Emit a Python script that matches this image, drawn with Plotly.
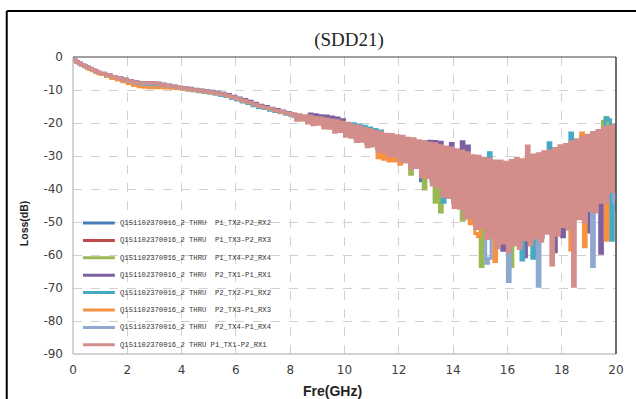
import plotly.graph_objects as go

# ---------------- data ----------------
series_names = [
    "Q151102370016_2 THRU\u00a0 P1_TX2-P2_RX2",
    "Q151102370016_2 THRU\u00a0 P1_TX3-P2_RX3",
    "Q151102370016_2 THRU\u00a0 P1_TX4-P2_RX4",
    "Q151102370016_2 THRU\u00a0 P2_TX1-P1_RX1",
    "Q151102370016_2 THRU\u00a0 P2_TX2-P1_RX2",
    "Q151102370016_2 THRU\u00a0 P2_TX3-P1_RX3",
    "Q151102370016_2 THRU\u00a0 P2_TX4-P1_RX4",
    "Q151102370016_2 THRU P1_TX1-P2_RX1",
]
series_colors = ["#4A7EBB", "#BE4B48", "#98B954", "#7D60A0",
                 "#46AAC5", "#F69240", "#8EA8D0", "#D38E8C"]

# frequency grid (GHz)
freq_ghz = [0.0, 0.1, 0.2, 0.3, 0.4, 0.5, 0.6, 0.7, 0.8, 0.9, 1.0,
            1.2, 1.4, 1.6, 1.8, 2.0, 2.2, 2.4, 2.6, 2.8, 3.0,
            3.2, 3.4, 3.6, 3.8, 4.0, 4.2, 4.4, 4.6, 4.8, 5.0,
            5.2, 5.4, 5.6, 5.8, 6.0, 6.2, 6.4, 6.6, 6.8, 7.0,
            7.2, 7.4, 7.6, 7.8, 8.0,
            8.1, 8.2, 8.3, 8.4, 8.5, 8.6, 8.7, 8.8, 8.9, 9.0,
            9.1, 9.2, 9.3, 9.4, 9.5, 9.6, 9.7, 9.8, 9.9, 10.0,
            10.1, 10.2, 10.3, 10.4, 10.5, 10.6, 10.7, 10.8, 10.9, 11.0,
            11.1, 11.2, 11.3, 11.4, 11.5, 11.6, 11.7, 11.8, 11.9, 12.0,
            12.1, 12.2, 12.3, 12.4, 12.5, 12.6, 12.7, 12.8, 12.9, 13.0,
            13.1, 13.2, 13.3, 13.4, 13.5, 13.6, 13.7, 13.8, 13.9, 14.0,
            14.1, 14.2, 14.3, 14.4, 14.5, 14.6, 14.7, 14.8, 14.9, 15.0,
            15.1, 15.2, 15.3, 15.4, 15.5, 15.6, 15.7, 15.8, 15.9, 16.0,
            16.1, 16.2, 16.3, 16.4, 16.5, 16.6, 16.7, 16.8, 16.9, 17.0,
            17.1, 17.2, 17.3, 17.4, 17.5, 17.6, 17.7, 17.8, 17.9, 18.0,
            18.1, 18.2, 18.3, 18.4, 18.5, 18.6, 18.7, 18.8, 18.9, 19.0,
            19.1, 19.2, 19.3, 19.4, 19.5, 19.6, 19.7, 19.8, 19.9, 20.0]

loss_p1_tx2 = [-1.0, -1.5, -2.0, -2.5, -2.9, -3.3, -3.7, -4.1, -4.5, -4.8, -5.1,
               -5.6, -6.1, -6.6, -7.0, -7.5, -7.9, -8.2, -8.3, -8.3, -8.4,
               -8.6, -8.9, -9.1, -9.4, -9.6, -9.9, -10.1, -10.4, -10.6, -10.8,
               -11.1, -11.5, -11.9, -12.4, -12.9, -13.4, -13.9, -14.5, -15.0, -15.4,
               -15.9, -16.3, -16.8, -17.2, -17.6,
               -17.9, -18.7, -18.1, -18.9, -18.4, -19.4, -18.6, -19.7, -19.0, -19.9,
               -19.3, -20.7, -19.6, -21.1, -19.9, -21.9, -20.2, -22.1, -20.6, -23.1,
               -21.1, -23.6, -21.6, -24.7, -22.0, -24.9, -22.5, -26.1, -22.9, -26.3,
               -23.4, -27.7, -23.9, -28.1, -24.3, -29.1, -24.5, -29.3, -24.9, -30.5,
               -25.1, -31.1, -25.6, -32.7, -25.9, -32.9, -26.4, -37.5, -26.7, -35.6,
               -27.1, -37.6, -27.4, -38.6, -28.0, -41.1, -28.3, -41.6, -28.7, -44.1,
               -29.1, -44.6, -29.6, -47.4, -30.1, -47.6, -30.9, -50.6, -31.1, -50.6,
               -31.7, -53.6, -32.0, -53.6, -32.6, -56.1, -32.6, -58.5, -32.9, -57.1,
               -32.5, -55.6, -31.8, -56.6, -32.1, -54.1, -31.1, -55.6, -30.8, -53.6,
               -30.4, -54.6, -29.8, -52.1, -29.6, -52.6, -28.8, -52.6, -28.0, -50.1,
               -27.6, -50.6, -26.8, -49.1, -26.2, -48.1, -25.4, -48.6, -24.8, -45.6,
               -24.0, -45.6, -23.4, -43.1, -22.5, -43.1, -22.2, -40.1, -21.7, -40.1]

loss_p1_tx3 = [-0.9, -1.4, -1.9, -2.4, -2.8, -3.2, -3.6, -4.0, -4.4, -4.7, -5.0,
               -5.5, -6.0, -6.5, -6.9, -7.4, -7.8, -8.0, -8.2, -8.2, -8.3,
               -8.5, -8.8, -9.0, -9.3, -9.5, -9.8, -10.0, -10.3, -10.5, -10.7,
               -11.0, -11.3, -11.7, -12.2, -12.8, -13.3, -13.8, -14.4, -14.9, -15.3,
               -15.8, -16.2, -16.7, -17.1, -17.5,
               -17.7, -18.5, -17.9, -18.7, -18.2, -19.2, -18.4, -19.5, -18.8, -19.7,
               -19.1, -20.5, -19.4, -20.9, -19.7, -21.7, -20.0, -21.9, -20.4, -22.9,
               -20.9, -23.4, -21.4, -24.5, -21.8, -24.7, -22.3, -25.9, -22.7, -26.1,
               -23.2, -27.5, -23.7, -27.9, -24.1, -28.9, -24.3, -29.1, -24.7, -30.3,
               -24.9, -30.9, -25.4, -32.5, -25.7, -32.7, -26.2, -34.9, -26.5, -35.4,
               -26.9, -37.4, -27.2, -38.4, -27.8, -40.9, -28.1, -41.4, -28.5, -43.9,
               -28.9, -44.4, -29.4, -47.2, -29.9, -49.8, -30.7, -50.4, -30.9, -50.4,
               -31.5, -53.4, -31.8, -53.4, -32.4, -55.9, -32.4, -54.9, -32.7, -56.9,
               -32.3, -55.4, -31.6, -56.4, -31.9, -53.9, -30.9, -55.4, -30.6, -53.4,
               -30.2, -54.4, -29.6, -51.9, -29.4, -52.4, -28.6, -52.4, -27.8, -49.9,
               -27.4, -50.4, -26.6, -48.9, -26.0, -47.9, -25.2, -48.4, -24.6, -45.4,
               -23.8, -45.4, -23.2, -42.9, -22.3, -42.9, -22.0, -39.9, -21.5, -39.9]

loss_p1_tx4 = [-1.0, -1.5, -2.0, -2.5, -2.9, -3.3, -3.7, -4.1, -4.4, -4.7, -5.0,
               -5.6, -6.1, -6.6, -7.1, -7.6, -8.1, -8.5, -8.6, -8.5, -8.5,
               -8.7, -8.9, -9.2, -9.4, -9.6, -9.9, -10.1, -10.3, -10.5, -10.7,
               -11.0, -11.3, -11.7, -12.2, -12.7, -13.2, -13.8, -14.3, -14.9, -15.3,
               -15.8, -16.3, -16.7, -17.2, -17.6,
               -17.9, -18.8, -18.1, -19.0, -18.4, -19.5, -18.6, -19.8, -19.0, -20.0,
               -19.3, -20.8, -19.6, -21.2, -19.9, -22.0, -20.2, -22.2, -20.6, -23.2,
               -21.1, -23.7, -21.6, -24.8, -22.0, -25.0, -22.5, -26.2, -22.9, -26.4,
               -23.4, -27.8, -23.9, -28.2, -24.3, -29.2, -24.5, -29.4, -24.9, -30.6,
               -25.1, -31.2, -25.6, -35.5, -25.9, -33.0, -26.4, -35.2, -40.0, -35.7,
               -27.1, -37.7, -44.0, -38.7, -47.0, -41.2, -28.3, -41.7, -28.7, -44.2,
               -29.1, -44.7, -49.5, -47.5, -30.1, -47.7, -30.9, -50.7, -31.1, -63.5,
               -31.7, -53.7, -32.0, -53.7, -32.6, -56.2, -32.6, -55.2, -32.9, -57.2,
               -63.5, -55.7, -31.8, -56.7, -32.1, -54.2, -31.1, -55.7, -30.8, -53.7,
               -30.4, -54.7, -29.8, -52.2, -29.6, -52.7, -28.8, -52.7, -28.0, -50.2,
               -27.6, -50.7, -26.8, -49.2, -26.2, -48.2, -25.4, -48.7, -24.8, -45.7,
               -24.0, -45.7, -23.4, -43.2, -19.5, -18.3, -22.5, -40.2, -21.7, -40.2]

loss_p2_tx1 = [-0.9, -1.4, -1.9, -2.3, -2.7, -3.0, -3.4, -3.8, -4.2, -4.6, -4.9,
               -5.4, -5.9, -6.3, -6.7, -7.2, -7.5, -7.7, -7.8, -7.8, -7.9,
               -8.2, -8.5, -8.8, -9.1, -9.3, -9.5, -9.8, -10.0, -10.2, -10.4,
               -10.7, -11.0, -11.4, -11.9, -12.4, -12.9, -13.4, -14.0, -14.6, -15.0,
               -15.5, -15.9, -16.4, -16.8, -17.2,
               -17.6, -18.5, -17.8, -18.7, -18.1, -19.2, -17.3, -19.5, -17.5, -19.7,
               -17.8, -20.5, -17.9, -20.9, -18.2, -21.7, -18.5, -21.9, -19.0, -22.9,
               -20.8, -23.4, -21.3, -24.5, -21.7, -24.7, -22.2, -25.9, -22.6, -26.1,
               -23.1, -27.5, -23.6, -27.9, -24.0, -28.9, -24.2, -29.1, -24.6, -30.3,
               -24.8, -30.9, -25.3, -32.5, -25.6, -32.7, -26.1, -34.9, -26.4, -35.4,
               -25.5, -37.4, -25.6, -38.4, -25.8, -40.9, -28.0, -41.4, -26.2, -43.9,
               -28.8, -44.4, -25.7, -47.2, -27.0, -47.4, -30.6, -50.4, -30.8, -50.4,
               -31.4, -53.4, -31.7, -53.4, -32.3, -55.9, -32.3, -58.5, -32.6, -56.9,
               -32.2, -55.4, -31.5, -56.4, -31.8, -60.5, -30.8, -55.4, -30.5, -53.4,
               -30.1, -54.4, -29.5, -51.9, -29.3, -52.4, -59.0, -52.4, -27.7, -54.5,
               -27.3, -50.4, -26.5, -48.9, -25.9, -47.9, -25.1, -48.4, -53.0, -45.4,
               -23.7, -45.4, -23.1, -59.5, -22.2, -42.9, -21.9, -39.9, -21.4, -39.9]

loss_p2_tx2 = [-1.0, -1.5, -2.0, -2.5, -2.9, -3.3, -3.7, -4.1, -4.5, -4.8, -5.1,
               -5.7, -6.2, -6.7, -7.1, -7.6, -8.0, -8.3, -8.4, -8.5, -8.5,
               -8.7, -9.0, -9.2, -9.4, -9.6, -9.9, -10.2, -10.5, -10.7, -10.9,
               -11.2, -11.6, -12.0, -12.5, -13.0, -13.6, -14.1, -14.8, -15.3, -15.6,
               -16.1, -16.5, -16.9, -17.3, -17.7,
               -17.8, -18.7, -18.0, -18.9, -18.3, -19.4, -18.5, -19.7, -18.9, -19.9,
               -19.2, -20.7, -19.5, -21.1, -19.8, -21.9, -20.1, -22.1, -20.5, -23.1,
               -21.0, -23.6, -20.2, -24.7, -20.6, -24.9, -21.0, -26.1, -21.5, -26.3,
               -22.0, -27.7, -22.4, -28.1, -24.2, -29.1, -24.4, -29.3, -24.8, -30.5,
               -25.0, -31.1, -25.5, -32.7, -25.8, -32.9, -26.3, -35.1, -26.6, -35.6,
               -27.0, -37.6, -27.3, -38.6, -27.9, -44.0, -28.2, -41.6, -28.6, -44.1,
               -29.0, -44.6, -29.5, -47.4, -30.0, -47.6, -30.8, -50.6, -31.0, -50.6,
               -31.6, -53.6, -29.0, -53.6, -32.5, -56.1, -32.5, -55.1, -32.8, -57.1,
               -32.4, -55.6, -31.7, -56.6, -61.5, -54.1, -31.0, -55.6, -61.0, -53.6,
               -30.3, -54.6, -29.7, -52.1, -26.0, -52.6, -28.7, -52.6, -27.9, -50.1,
               -27.5, -50.6, -23.0, -49.1, -26.1, -48.1, -25.3, -48.6, -24.7, -45.6,
               -23.9, -45.6, -23.3, -43.1, -22.4, -18.5, -19.0, -55.5, -21.6, -40.1]

loss_p2_tx3 = [-1.1, -1.6, -2.1, -2.6, -3.0, -3.4, -3.8, -4.2, -4.6, -5.0, -5.3,
               -5.9, -6.5, -7.0, -7.5, -8.1, -8.6, -9.0, -9.2, -9.3, -9.3,
               -9.3, -9.4, -9.5, -9.6, -9.8, -10.0, -10.2, -10.4, -10.6, -10.8,
               -11.1, -11.4, -11.8, -12.3, -12.8, -13.3, -13.9, -14.5, -15.0, -15.4,
               -15.9, -16.3, -16.8, -17.2, -17.7,
               -17.9, -18.8, -18.1, -19.0, -18.4, -19.5, -18.6, -19.8, -19.0, -20.0,
               -19.3, -20.8, -19.6, -21.2, -19.9, -22.0, -20.2, -22.2, -20.6, -23.2,
               -21.1, -23.7, -21.6, -24.8, -22.0, -25.0, -22.5, -26.2, -22.9, -26.4,
               -23.4, -30.5, -23.9, -31.0, -24.3, -31.5, -24.5, -31.5, -24.9, -32.5,
               -25.1, -31.2, -25.6, -32.8, -25.9, -33.0, -26.4, -35.2, -26.7, -35.7,
               -27.1, -37.7, -27.4, -38.7, -28.0, -41.2, -28.3, -41.7, -28.7, -44.2,
               -29.1, -44.7, -29.6, -47.5, -30.1, -50.5, -30.9, -53.5, -54.5, -50.7,
               -31.7, -53.7, -32.0, -53.7, -62.0, -56.2, -32.6, -55.2, -32.9, -57.2,
               -32.5, -55.7, -31.8, -56.7, -32.1, -54.2, -31.1, -55.7, -30.8, -53.7,
               -30.4, -54.7, -29.8, -52.2, -29.6, -52.7, -28.8, -52.7, -28.0, -50.2,
               -27.6, -50.7, -58.5, -49.2, -26.2, -48.2, -23.0, -57.5, -24.8, -45.7,
               -24.0, -45.7, -23.4, -43.2, -22.5, -55.5, -22.2, -40.2, -21.7, -40.2]

loss_p2_tx4 = [-1.0, -1.5, -2.0, -2.4, -2.8, -3.1, -3.5, -3.9, -4.3, -4.7, -5.0,
               -5.5, -6.0, -6.4, -6.9, -7.4, -7.8, -8.1, -8.2, -8.2, -8.2,
               -8.5, -8.8, -9.0, -9.3, -9.5, -9.8, -10.0, -10.2, -10.4, -10.6,
               -10.9, -11.3, -11.7, -12.2, -12.7, -13.2, -13.8, -14.4, -14.9, -15.3,
               -15.8, -16.2, -16.6, -17.1, -17.5,
               -17.8, -18.6, -18.0, -18.8, -18.3, -19.3, -18.5, -19.6, -18.9, -19.8,
               -19.2, -20.6, -19.5, -21.0, -19.8, -21.8, -20.1, -22.0, -20.5, -23.0,
               -21.0, -23.5, -21.5, -24.6, -21.9, -24.8, -22.4, -26.0, -22.8, -26.2,
               -23.3, -27.6, -23.8, -28.0, -24.2, -29.0, -24.4, -29.2, -24.8, -30.4,
               -25.0, -31.0, -25.5, -32.6, -25.8, -32.8, -26.3, -35.0, -26.6, -35.5,
               -27.0, -37.5, -27.3, -38.5, -27.9, -41.0, -28.2, -41.5, -28.6, -44.0,
               -29.0, -44.5, -29.5, -47.3, -30.0, -47.5, -30.8, -50.5, -31.0, -50.5,
               -31.6, -62.5, -61.0, -53.5, -32.5, -56.0, -32.5, -55.0, -32.8, -68.0,
               -32.4, -55.5, -31.7, -56.5, -32.0, -54.0, -31.0, -55.5, -30.7, -53.5,
               -69.5, -54.5, -29.7, -52.0, -29.5, -52.5, -28.7, -52.5, -27.9, -50.0,
               -27.5, -50.5, -26.7, -49.0, -26.1, -48.0, -25.3, -48.5, -24.7, -45.5,
               -63.5, -45.5, -23.3, -43.0, -22.4, -43.0, -22.1, -40.0, -44.0, -47.0]

loss_p1_tx1 = [-0.8, -1.3, -1.8, -2.3, -2.7, -3.1, -3.5, -3.9, -4.2, -4.6, -4.9,
               -5.4, -5.9, -6.4, -6.8, -7.3, -7.6, -7.8, -7.9, -7.9, -8.0,
               -8.3, -8.6, -8.9, -9.2, -9.4, -9.6, -9.9, -10.1, -10.4, -10.6,
               -10.9, -11.2, -11.6, -12.1, -12.7, -13.2, -13.7, -14.3, -14.9, -15.3,
               -15.7, -16.2, -16.6, -17.0, -17.3,
               -17.2, -19.2, -17.5, -19.0, -17.8, -20.0, -17.9, -20.5, -18.3, -20.4,
               -18.5, -21.5, -18.8, -21.6, -19.1, -22.8, -19.3, -22.6, -19.8, -24.0,
               -20.1, -24.3, -20.7, -25.6, -21.0, -25.5, -21.6, -27.2, -22.0, -27.0,
               -22.5, -28.6, -22.9, -28.8, -23.4, -30.0, -23.5, -30.0, -23.9, -31.5,
               -24.0, -31.8, -24.6, -33.8, -24.8, -33.5, -25.4, -36.3, -25.6, -36.5,
               -26.1, -38.8, -26.3, -39.5, -26.9, -42.3, -27.3, -42.6, -27.6, -45.6,
               -28.1, -45.8, -28.5, -48.9, -29.0, -48.6, -29.9, -52.0, -30.1, -51.6,
               -30.7, -55.0, -30.9, -54.6, -31.5, -57.8, -31.5, -56.4, -31.9, -59.0,
               -31.4, -57.0, -30.7, -58.0, -31.1, -55.4, -27.0, -57.0, -29.7, -54.8,
               -29.3, -55.8, -28.7, -53.4, -28.5, -63.0, -27.7, -54.0, -26.9, -51.4,
               -26.5, -52.2, -25.7, -69.5, -25.1, -49.0, -24.3, -50.0, -23.7, -46.5,
               -22.9, -47.0, -22.3, -44.0, -21.4, -44.2, -21.1, -40.8, -20.6, -41.0]

series_y = [loss_p1_tx2, loss_p1_tx3, loss_p1_tx4, loss_p2_tx1,
            loss_p2_tx2, loss_p2_tx3, loss_p2_tx4, loss_p1_tx1]

x_ticks = [0, 2, 4, 6, 8, 10, 12, 14, 16, 18, 20]
y_ticks = [0, -10, -20, -30, -40, -50, -60, -70, -80, -90]
y_ticktext = ["0", "-10", "-20", "-30", "-40", "-50", "-60", "-70", "-80", "-90"]

# ---------------- layout geometry (pixels) ----------------
W, H = 636, 399
PL, PR, PT, PB = 73, 618, 57, 354   # plot area edges


def px_x(p):
    return (p - PL) / (PR - PL)


def px_y(p):
    return (PB - p) / (PB - PT)


fig = go.Figure()
for ys, name, col in zip(series_y, series_names, series_colors):
    fig.add_trace(go.Scatter(x=freq_ghz, y=ys, mode="lines", name=name,
                             line=dict(color=col, width=3, shape="hv"), showlegend=False))

tick_font = dict(family="DejaVu Sans", size=12, color="#404040")
fig.update_layout(
    width=W, height=H,
    margin=dict(l=PL, r=W - PR, t=PT, b=H - PB, pad=0),
    paper_bgcolor="white", plot_bgcolor="white",
    title=dict(text="(SDD21)", x=349 / W, xanchor="center", y=1 - 39 / H, yanchor="middle",
               font=dict(family="Liberation Serif", size=19, color="#222222")),
    xaxis=dict(range=[0, 20], tickvals=x_ticks, showgrid=True, gridcolor="#D0D0D0",
               griddash="dash", gridwidth=1, zeroline=False, showline=False,
               ticks="", tickfont=tick_font, ticklabelstandoff=7),
    yaxis=dict(range=[-90, 0], tickvals=y_ticks, ticktext=y_ticktext, showgrid=True,
               gridcolor="#D0D0D0", griddash="dash", gridwidth=1, zeroline=False,
               showline=False, ticks="", tickfont=tick_font, ticklabelstandoff=9),
)

shapes = []
# plot area borders
shapes.append(dict(type="line", xref="paper", yref="paper", x0=0, x1=0, y0=0, y1=1,
                   line=dict(color="#A6A6A6", width=1)))
shapes.append(dict(type="line", xref="paper", yref="paper", x0=0, x1=1, y0=0, y1=0,
                   line=dict(color="#A6A6A6", width=1)))
shapes.append(dict(type="line", xref="paper", yref="paper", x0=0, x1=1, y0=1, y1=1,
                   line=dict(color="#404040", width=1)))
shapes.append(dict(type="line", xref="paper", yref="paper", x0=1, x1=1, y0=0, y1=1,
                   line=dict(color="#404040", width=1.5)))
# outer frame (top and left visible)
shapes.append(dict(type="line", xref="paper", yref="paper", x0=px_x(6.5), x1=px_x(650),
                   y0=px_y(11), y1=px_y(11), line=dict(color="black", width=2)))
shapes.append(dict(type="line", xref="paper", yref="paper", x0=px_x(6.5), x1=px_x(6.5),
                   y0=px_y(11), y1=px_y(420), line=dict(color="black", width=2)))

annotations = []
# manual legend
for i, (name, col) in enumerate(zip(series_names, series_colors)):
    yy = 223 + 17.4 * i
    shapes.append(dict(type="line", xref="paper", yref="paper", x0=px_x(83), x1=px_x(115),
                       y0=px_y(yy), y1=px_y(yy), line=dict(color=col, width=3)))
    annotations.append(dict(text=name, xref="paper", yref="paper", x=px_x(118), y=px_y(yy),
                            xanchor="left", yanchor="middle", showarrow=False,
                            font=dict(family="Liberation Mono", size=7.2, color="#333333")))

# axis titles
annotations.append(dict(text="<b>Fre(GHz)</b>", xref="paper", yref="paper", x=px_x(333),
                        y=px_y(391), xanchor="center", yanchor="middle", showarrow=False,
                        font=dict(family="Liberation Sans", size=14, color="#222222")))
annotations.append(dict(text="<b>Loss(dB)</b>", xref="paper", yref="paper", x=px_x(24),
                        y=px_y(223), xanchor="center", yanchor="middle", showarrow=False,
                        textangle=-90,
                        font=dict(family="Liberation Sans", size=10.5, color="#222222")))

fig.update_layout(shapes=shapes, annotations=annotations)
fig.write_html("out.html", config={"displayModeBar": False},
               post_script="document.body.style.margin='0px';"
                           "document.body.style.overflow='hidden';")
